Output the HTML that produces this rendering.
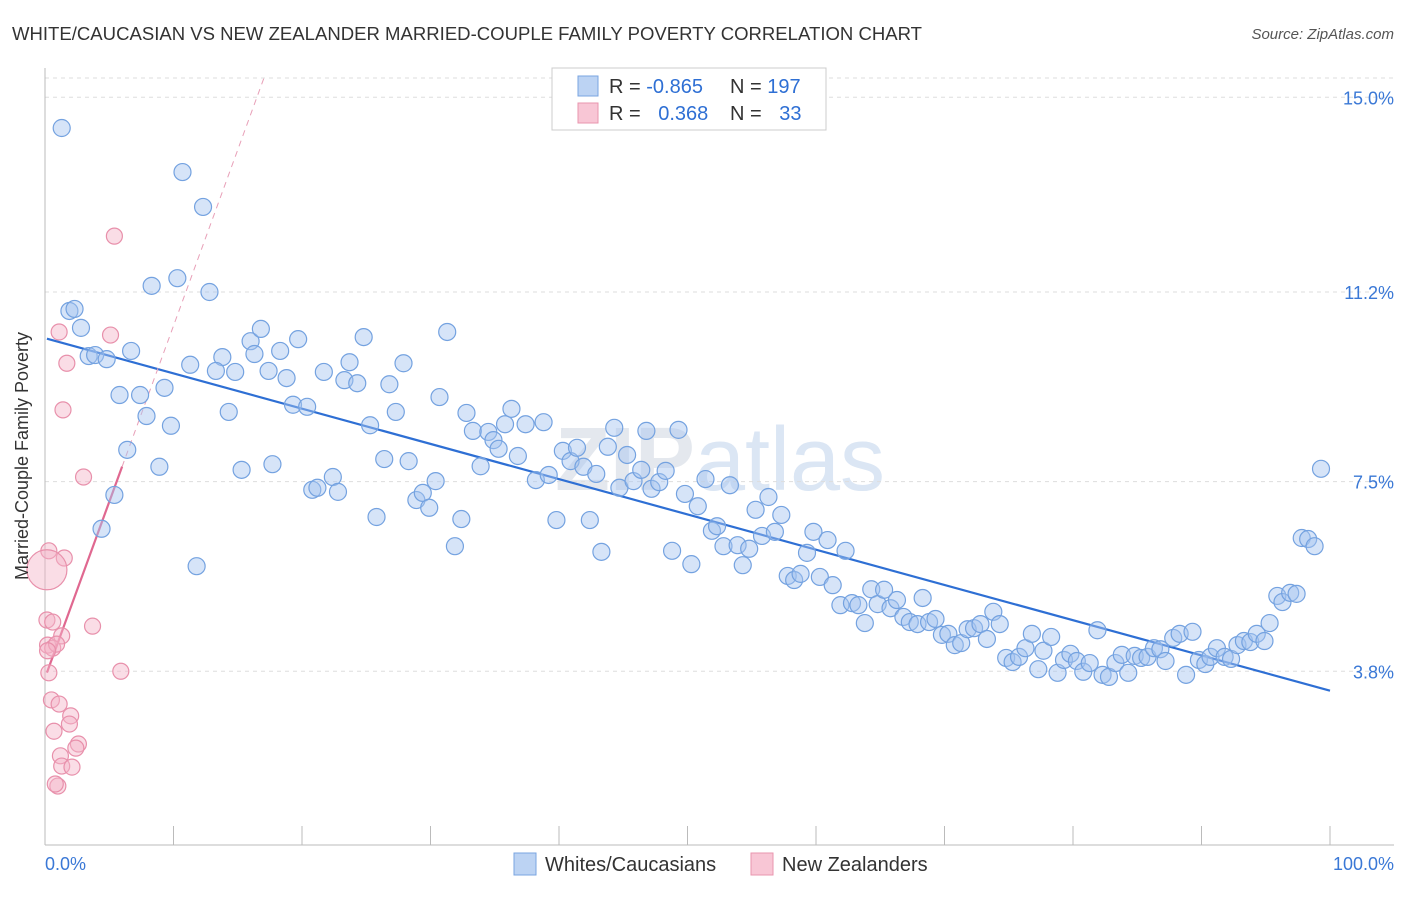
<!DOCTYPE html>
<html><head><meta charset="utf-8"><style>
body{margin:0;background:#fff;font-family:"Liberation Sans",sans-serif;}
svg text{font-family:"Liberation Sans",sans-serif;}
</style></head><body>
<svg width="1406" height="892" viewBox="0 0 1406 892">
<text x="12" y="40" font-size="18" fill="#333" textLength="910" lengthAdjust="spacingAndGlyphs">WHITE/CAUCASIAN VS NEW ZEALANDER MARRIED-COUPLE FAMILY POVERTY CORRELATION CHART</text>
<text x="1394" y="39" font-size="15" fill="#555" text-anchor="end" font-style="italic">Source: ZipAtlas.com</text>
<text x="720" y="490" font-size="90" fill="#e4e8ee" text-anchor="middle" font-weight="bold">ZIP<tspan font-weight="normal" fill="#dbe6f4">atlas</tspan></text>
<g id="grid"></g>
<g id="axes"></g>
<g id="trend"></g>
<g id="pts"></g>
<text x="28" y="456" font-size="18" fill="#333" text-anchor="middle" transform="rotate(-90 28 456)">Married-Couple Family Poverty</text>
<text x="45" y="870" font-size="18" fill="#3a78d6">0.0%</text>
<text x="1394" y="870" font-size="18" fill="#3a78d6" text-anchor="end">100.0%</text>
<g>
<rect x="552" y="68" width="274" height="62" fill="#fff" stroke="#ccc"/>
<rect x="578" y="76" width="20" height="20" fill="#bcd3f3" stroke="#7aa5e0"/>
<rect x="578" y="103" width="20" height="20" fill="#f8c6d5" stroke="#e995ae"/>
<text x="609" y="93" font-size="20" fill="#333">R = <tspan fill="#2e6fd4">-0.865</tspan></text>
<text x="730" y="93" font-size="20" fill="#333">N = <tspan fill="#2e6fd4">197</tspan></text>
<text x="609" y="120" font-size="20" fill="#333">R = <tspan fill="#2e6fd4" dx="12">0.368</tspan></text>
<text x="730" y="120" font-size="20" fill="#333">N = <tspan fill="#2e6fd4" dx="12">33</tspan></text>
</g>
<g>
<rect x="514" y="853" width="22" height="22" fill="#bcd3f3" stroke="#7aa5e0"/>
<text x="545" y="871" font-size="20" fill="#333">Whites/Caucasians</text>
</g>
<g>
<rect x="751" y="853" width="22" height="22" fill="#f8c6d5" stroke="#e995ae"/>
<text x="782" y="871" font-size="20" fill="#333">New Zealanders</text>
</g>
</svg>
<script>
const yTicks=[15.0,11.2,7.5,3.8];
const yTickLabels=["15.0%","11.2%","7.5%","3.8%"];
const xTicks=[0,10,20,30,40,50,60,70,80,90,100];
const blueX=[1.3,10.7,12.3,8.3,10.3,12.8,1.9,2.3,2.8,3.4,3.9,4.8,6.7,5.8,7.4,9.3,7.9,9.8,6.4,8.9,5.4,4.4,11.8,11.3,13.8,13.3,14.8,14.3,16.0,16.8,16.3,18.3,17.4,18.8,19.7,19.3,20.4,15.3,17.7,20.8,21.2,22.4,22.8,21.7,23.3,23.7,24.3,24.8,25.3,26.8,27.3,27.9,26.4,28.3,25.8,28.9,29.4,29.9,30.4,30.7,31.3,31.9,32.4,32.8,33.3,33.9,34.5,34.9,35.3,35.8,36.3,36.8,37.4,38.2,38.8,39.2,39.8,40.3,40.9,41.4,41.9,42.4,42.9,43.3,43.8,44.3,44.7,45.3,45.8,46.4,46.8,47.2,47.8,48.3,48.8,49.3,49.8,50.3,50.8,51.4,51.9,52.3,52.8,53.3,53.9,54.3,54.8,55.3,55.8,56.3,56.8,57.3,57.8,58.3,58.8,59.3,59.8,60.3,60.9,61.3,61.9,62.3,62.8,63.3,63.8,64.3,64.8,65.3,65.8,66.3,66.8,67.3,67.9,68.3,68.8,69.3,69.8,70.3,70.8,71.3,71.8,72.3,72.8,73.3,73.8,74.3,74.8,75.3,75.8,76.3,76.8,77.3,77.7,78.3,78.8,79.3,79.8,80.3,80.8,81.3,81.9,82.3,82.8,83.3,83.8,84.3,84.8,85.3,85.8,86.3,86.8,87.2,87.8,88.3,88.8,89.3,89.8,90.3,90.7,91.2,91.8,92.3,92.8,93.3,93.8,94.3,94.9,95.3,95.9,96.3,96.9,97.4,97.8,98.3,98.8,99.3];
const blueY=[14.40,13.54,12.86,11.32,11.47,11.20,10.83,10.87,10.50,9.95,9.97,9.89,10.05,9.19,9.19,9.33,8.78,8.59,8.12,7.79,7.24,6.58,5.85,9.78,9.93,9.66,9.64,8.86,10.24,10.48,9.99,10.05,9.66,9.52,10.28,9.00,8.96,7.73,7.84,7.34,7.38,7.59,7.30,9.64,9.48,9.83,9.42,10.32,8.60,9.40,8.86,9.81,7.94,7.90,6.81,7.14,7.28,6.99,7.51,9.15,10.42,6.24,6.77,8.84,8.49,7.80,8.47,8.31,8.14,8.62,8.92,8.00,8.62,7.53,8.66,7.63,6.75,8.10,7.90,8.16,7.79,6.75,7.65,6.13,8.18,8.55,7.38,8.02,7.51,7.73,8.49,7.36,7.49,7.71,6.15,8.51,7.26,5.89,7.02,7.55,6.54,6.63,6.24,7.43,6.26,5.87,6.19,6.95,6.44,7.20,6.52,6.85,5.66,5.58,5.70,6.11,6.52,5.64,6.36,5.48,5.09,6.15,5.13,5.09,4.74,5.40,5.11,5.39,5.03,5.19,4.86,4.76,4.72,5.23,4.76,4.82,4.51,4.53,4.31,4.35,4.62,4.64,4.72,4.43,4.96,4.72,4.06,3.98,4.08,4.25,4.53,3.84,4.20,4.47,3.77,4.02,4.14,4.00,3.79,3.96,4.60,3.73,3.69,3.96,4.12,3.77,4.10,4.06,4.08,4.25,4.23,4.00,4.45,4.53,3.73,4.57,4.02,3.94,4.08,4.25,4.08,4.04,4.31,4.39,4.37,4.53,4.39,4.74,5.27,5.15,5.33,5.31,6.40,6.38,6.24,7.75];
const pinkX=[5.4,1.1,5.1,1.7,1.4,3.0,0.3,1.5,0.15,0.15,0.6,1.3,3.7,0.2,0.6,0.9,0.2,0.3,5.9,0.5,1.1,2.0,1.9,0.7,2.6,2.4,1.2,1.3,2.1,1.0,0.8];
const pinkY=[12.29,10.42,10.36,9.81,8.90,7.59,6.15,6.01,5.78,4.80,4.76,4.49,4.68,4.31,4.25,4.33,4.20,3.77,3.80,3.24,3.16,2.93,2.77,2.63,2.38,2.30,2.15,1.95,1.93,1.56,1.60];
const pinkR=[8,8,8,8,8,8,8,8,20,8,8,8,8,8,8,8,8,8,8,8,8,8,8,8,8,8,8,8,8,8,8];
const blueTrend=[10.30,-0.0688];
const pinkTrend=[3.67,0.687];
const NS="http://www.w3.org/2000/svg";
const X=v=>45+v*12.85, Y=v=>866-v*51.25;
function mk(t,a,p){const e=document.createElementNS(NS,t);for(const k in a)e.setAttribute(k,a[k]);p.appendChild(e);return e;}
const grid=document.getElementById('grid'),axes=document.getElementById('axes'),pts=document.getElementById('pts'),trend=document.getElementById('trend');
let g=mk('line',{x1:45,x2:1394,y1:78,y2:78,stroke:'#ddd','stroke-dasharray':'4,4'},grid);


yTicks.forEach((v,i)=>{
 const l=mk('line',{x1:45,x2:1394,y1:Y(v),y2:Y(v),stroke:'#ddd','stroke-dasharray':'4,4'},grid);
 
 
 const t=mk('text',{x:1394,y:Y(v)+7,'font-size':18,fill:'#3a78d6','text-anchor':'end'},grid);
 t.textContent=yTickLabels[i];
 
 
});
let a=mk('line',{x1:45,x2:45,y1:68,y2:845,stroke:'#bbb'},axes);


a=mk('line',{x1:45,x2:1394,y1:845,y2:845,stroke:'#bbb'},axes);


xTicks.forEach(v=>{
 const l=mk('line',{x1:X(v),x2:X(v),y1:826,y2:845,stroke:'#bbb'},axes);
 
 
});
blueX.forEach((x,i)=>{
 const c=mk('circle',{cx:X(x),cy:Y(blueY[i]),r:8.5,fill:'rgba(165,196,240,0.45)',stroke:'#74a2e0','stroke-width':1.2},pts);
 
 
});
pinkX.forEach((x,i)=>{
 const c=mk('circle',{cx:X(x),cy:Y(pinkY[i]),r:pinkR[i],fill:'rgba(245,180,200,0.45)',stroke:'#e890ab','stroke-width':1.2},pts);
 
 
});
let t1=mk('line',{x1:X(0.15),y1:Y(blueTrend[0]+blueTrend[1]*0.15),x2:X(100),y2:Y(blueTrend[0]+blueTrend[1]*100),stroke:'#2e6fd4','stroke-width':2.2},trend);


let t2=mk('line',{x1:X(6),y1:Y(pinkTrend[0]+pinkTrend[1]*6),x2:X(17.1),y2:Y(pinkTrend[0]+pinkTrend[1]*17.1),stroke:'#e8a0b8','stroke-width':1,'stroke-dasharray':'6,5'},trend);


let t3=mk('line',{x1:X(0.15),y1:Y(pinkTrend[0]+pinkTrend[1]*0.15),x2:X(6),y2:Y(pinkTrend[0]+pinkTrend[1]*6),stroke:'#e06890','stroke-width':2.2},trend);


</script>
</body></html>
